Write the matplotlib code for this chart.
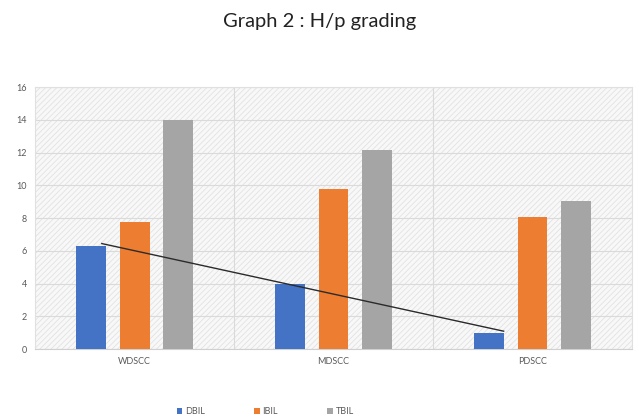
import matplotlib.pyplot as plt
import numpy as np

plt.rcParams['font.family'] = ['Lato', 'DejaVu Sans']
plt.rcParams['hatch.linewidth'] = 0.6

categories = ['WDSCC', 'MDSCC', 'PDSCC']
dbil = [6.3, 4.0, 1.0]
ibil = [7.75, 9.8, 8.05]
tbil = [14.0, 12.15, 9.07]
series = [('DBIL', dbil, '#4472c4'), ('IBIL', ibil, '#ed7d31'), ('TBIL', tbil, '#a5a5a5')]

fig = plt.figure(figsize=(6.39, 4.19), dpi=100)
ax = fig.add_axes([0.055, 0.167, 0.934, 0.625])

# hatched plot background
ax.patch.set_facecolor('#f8f8f8')
ax.patch.set_hatch('//////')
ax.patch.set_edgecolor('#e2e2e2')

x = np.arange(len(categories))
width = 0.15
step = 0.22
for i, (name, vals, col) in enumerate(series):
    ax.bar(x + (i - 1) * step, vals, width, color=col, label=name, zorder=3)

# linear trend over DBIL, placed just right of the DBIL bars
tpos = x - step + 0.065
coef = np.polyfit(tpos, dbil, 1)
tx = np.array([tpos[0] - 0.01, tpos[-1] + 0.01])
ax.plot(tx, np.polyval(coef, tx), color='#2b2b2b', lw=1.0, zorder=4)

ax.set_xlim(-0.5, 2.5)
ax.set_ylim(0, 16)
ax.set_yticks(range(0, 17, 2))
ax.set_xticks(x)
ax.set_xticklabels(categories)
ax.grid(axis='y', color='#dadada', lw=0.8, zorder=1)
for b in [0.5, 1.5]:
    ax.axvline(b, color='#dadada', lw=0.8, zorder=1)
ax.tick_params(length=0, labelsize=6.5, labelcolor='#595959', pad=6)
for s in ['top', 'right', 'left']:
    ax.spines[s].set_color('#e0e0e0')
ax.spines['bottom'].set_color('#d0d0d0')

fig.suptitle('Graph 2 : H/p grading', y=0.968, fontsize=14.5, color='#222222')
fig.legend(loc='lower center', bbox_to_anchor=(0.415, -0.012), ncol=3, frameon=False,
           fontsize=6.5, labelcolor='#595959', handlelength=0.6, handleheight=0.6,
           columnspacing=5.5, handletextpad=0.3)

fig.savefig('out.png', dpi=100)
